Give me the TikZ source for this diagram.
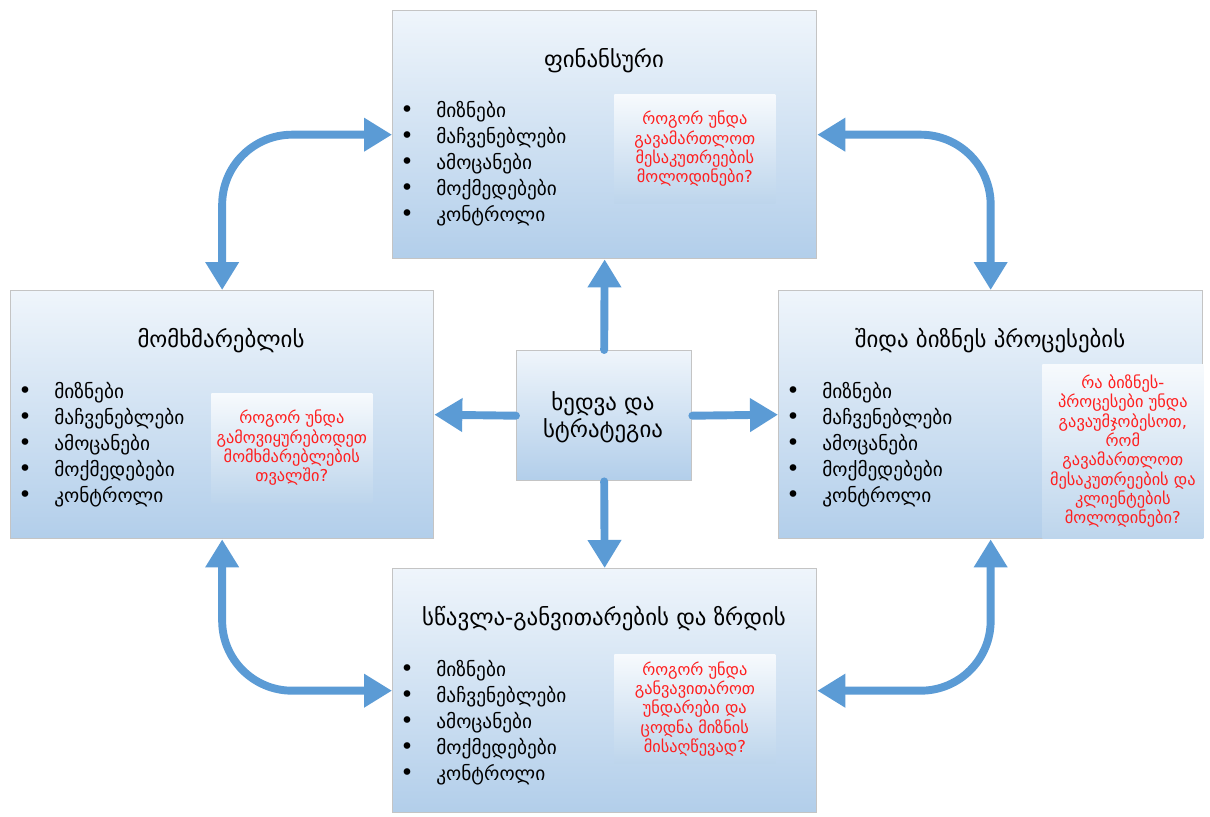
\documentclass[tikz,border=0pt]{standalone}
\usepackage{fontspec}
\setmainfont{DejaVu Sans}
\usetikzlibrary{arrows.meta}
\definecolor{arrowblue}{HTML}{5B9BD5}
\definecolor{boxtop}{HTML}{EFF5FB}
\definecolor{boxbot}{HTML}{B2CEEA}
\definecolor{boxline}{HTML}{C4C4C4}
\definecolor{qred}{HTML}{FF1F1F}
\definecolor{qtop}{HTML}{F7FAFD}
\definecolor{qbot}{HTML}{BDD5EC}
\newcommand{\blist}[3]{%
  \foreach \t [count=\i from 0] in {მიზნები,მაჩვენებლები,ამოცანები,მოქმედებები,კონტროლი}{
    \node[bulletstyle, anchor=base west] (#1b\i) at (#2, #3+\i*26) {•};
    \node[itemstyle, anchor=base west] (#1i\i) at (#2+36, #3+\i*26) {\t};
  }}
\begin{document}
\begin{tikzpicture}[x=0.02cm, y=-0.02cm,
  panel/.style={draw=boxline, line width=0.8pt, top color=boxtop, bottom color=boxbot,
    inner sep=0pt, anchor=north west},
  question/.style={top color=qtop, bottom color=qbot, inner sep=0pt, anchor=north west,
    text=qred, align=center, font=\fontsize{9.3}{11}\selectfont},
  titlestyle/.style={font=\fontsize{13}{16}\selectfont, inner sep=0pt, anchor=base},
  itemstyle/.style={font=\fontsize{11}{13}\selectfont, inner sep=0pt},
  bulletstyle/.style={font=\fontsize{13}{13}\selectfont, inner sep=0pt},
  conn/.style={draw=arrowblue, line width=4.5pt, line cap=round,
    -{Triangle[length=0.56cm, width=0.64cm]}},
  dbl/.style={draw=arrowblue, line width=4.5pt, rounded corners=1.4cm,
    {Triangle[length=0.56cm, width=0.64cm]}-{Triangle[length=0.56cm, width=0.64cm]}}
]
\useasboundingbox (0,0) rectangle (1210,816);
\fill[white] (0,0) rectangle (1210,816);

% panels
\node[panel, minimum width=8.48cm, minimum height=4.96cm] (top) at (392,10) {};
\node[panel, minimum width=8.46cm, minimum height=4.96cm] (left) at (10,290) {};
\node[panel, minimum width=8.48cm, minimum height=4.96cm] (right) at (778,290) {};
\node[panel, minimum width=8.48cm, minimum height=4.88cm] (bottom) at (392,568) {};
\node[panel, minimum width=3.5cm, minimum height=2.6cm] (center) at (516,350) {};

% questions
\node[question, minimum width=3.22cm, minimum height=2.18cm] (qtop) at (614,94)
  {როგორ უნდა\\გავამართლოთ\\მესაკუთრეების\\მოლოდინები?};
\node[question, minimum width=3.22cm, minimum height=2.18cm] (qleft) at (211,393)
  {როგორ უნდა\\გამოვიყურებოდეთ\\მომხმარებლების\\თვალში?};
\node[question, minimum width=3.22cm, minimum height=3.48cm] (qright) at (1042,364)
  {რა ბიზნეს-\\პროცესები უნდა\\გავაუმჯობესოთ,\\რომ\\გავამართლოთ\\მესაკუთრეების და\\კლიენტების\\მოლოდინები?};
\node[question, minimum width=3.22cm, minimum height=2.18cm] (qbottom) at (614,654)
  {როგორ უნდა\\განვავითაროთ\\უნდარები და\\ცოდნა მიზნის\\მისაღწევად?};

% titles
\node[titlestyle] (ttop) at (604,67) {ფინანსური};
\node[titlestyle] (tleft) at (221,347) {მომხმარებლის};
\node[titlestyle] (tright) at (990,347) {შიდა ბიზნეს პროცესების};
\node[titlestyle] (tbottom) at (604,625) {სწავლა-განვითარების და ზრდის};
\node[align=center, font=\fontsize{13}{15.3}\selectfont, inner sep=0pt] (tcenter) at (603,417)
  {ხედვა და\\სტრატეგია};

% lists
\blist{T}{400}{117}
\blist{L}{18}{398}
\blist{R}{786}{398}
\blist{B}{400}{676}

% connectors from center
\draw[conn] (center.north) -- (top.south);
\draw[conn] (center.south) -- (bottom.north);
\draw[conn] (center.west) -- (left.east);
\draw[conn] (center.east) -- (right.west);

% corner connectors
\draw[dbl] (top.west) -| (left.north);
\draw[dbl] (top.east) -| (right.north);
\draw[dbl] (bottom.west) -| (left.south);
\draw[dbl] (bottom.east) -| (right.south);
\end{tikzpicture}
\end{document}
